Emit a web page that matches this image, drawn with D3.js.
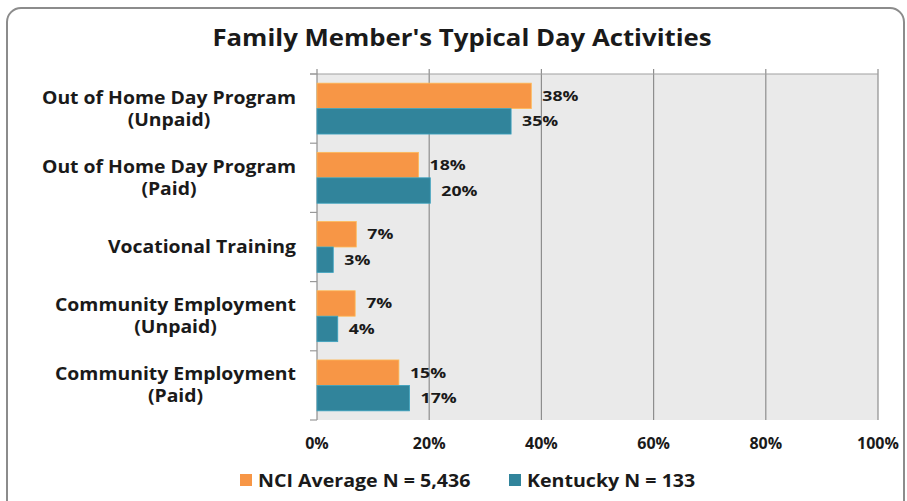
<!DOCTYPE html>
<html>
<head>
<meta charset="utf-8">
<script src="https://cdn.jsdelivr.net/npm/d3@7"></script>
<style>
  body { margin: 0; background: #fff; }
  svg text { font-family: "Open Sans", "DejaVu Sans", sans-serif; font-weight: bold; fill: #1a1a1a; }
</style>
</head>
<body>
<svg id="chart"></svg>
<script>
// Data
const categories = [
  ['Out of Home Day Program', '(Unpaid)'],
  ['Out of Home Day Program', '(Paid)'],
  ['Vocational Training'],
  ['Community Employment', '(Unpaid)'],
  ['Community Employment', '(Paid)']
];
const seriesNames = ['NCI Average N = 5,436', 'Kentucky N = 133'];
const nciValues = [38.2, 18.1, 7.0, 6.8, 14.6];
const kyValues = [34.6, 20.2, 2.9, 3.7, 16.5];
const xTicks = [0, 20, 40, 60, 80, 100];
const colors = ['#F79646', '#31849B'];

let width = 907;
let height = 501;
let margin = {left: 317, right: 29, top: 74, bottom: 81};

let svg = d3.select('#chart').attr('width', width).attr('height', height);

// the original font is a little wider than Open Sans, so stretch text horizontally
let stretch = (sel, k) => {
  sel.each(function() {
    let w = this.getComputedTextLength();
    d3.select(this)
      .attr('textLength', w * k)
      .attr('lengthAdjust', 'spacingAndGlyphs');
  });
  return sel;
};

// outer frame
svg.append('rect')
  .attr('x', 7).attr('y', 8)
  .attr('width', 897).attr('height', 510)
  .attr('rx', 14)
  .attr('fill', 'white')
  .attr('stroke', '#8c8c8c')
  .attr('stroke-width', 2);

// title
stretch(svg.append('text')
  .attr('x', 462).attr('y', 46)
  .attr('text-anchor', 'middle')
  .style('font-size', '23px')
  .text("Family Member's Typical Day Activities"), 1.12);

// scales
let xScale = d3.scaleLinear()
  .domain([0, 100])
  .range([margin.left, width - margin.right]);

let yScale = d3.scaleBand()
  .domain(d3.range(categories.length))
  .range([margin.top, height - margin.bottom]);

let inner = d3.scaleBand()
  .domain([0, 1])
  .range([0, yScale.bandwidth()])
  .paddingOuter(0.36)
  .paddingInner(0);

// plot background
svg.append('rect')
  .attr('x', xScale(0)).attr('y', margin.top)
  .attr('width', xScale(100) - xScale(0))
  .attr('height', height - margin.bottom - margin.top)
  .attr('fill', '#EAEAEA');

// vertical grid lines
svg.append('g')
  .selectAll('line')
  .data(xTicks.slice(1))
  .enter()
  .append('line')
  .attr('x1', d => xScale(d)).attr('x2', d => xScale(d))
  .attr('y1', margin.top - 5).attr('y2', height - margin.bottom)
  .attr('stroke', '#8e8e8e')
  .attr('stroke-width', 1.2);

// top line
svg.append('line')
  .attr('x1', xScale(0) - 7).attr('x2', xScale(100))
  .attr('y1', margin.top).attr('y2', margin.top)
  .attr('stroke', '#a0a0a0').attr('stroke-width', 1.2);

// left axis with ticks between categories
let yAxisG = svg.append('g');
yAxisG.append('line')
  .attr('x1', xScale(0)).attr('x2', xScale(0))
  .attr('y1', margin.top - 5).attr('y2', height - margin.bottom)
  .attr('stroke', '#8e8e8e').attr('stroke-width', 1.2);
yAxisG.selectAll('.ytick')
  .data(d3.range(categories.length + 1))
  .enter()
  .append('line')
  .attr('class', 'ytick')
  .attr('x1', xScale(0) - 7).attr('x2', xScale(0))
  .attr('y1', i => margin.top + i * yScale.step())
  .attr('y2', i => margin.top + i * yScale.step())
  .attr('stroke', '#9a9a9a').attr('stroke-width', 1.2);

// category labels: lines centred on each other, block right-aligned
let catG = svg.append('g');
categories.forEach((lines, i) => {
  let cy = yScale(i) + yScale.bandwidth() / 2;
  let block = catG.append('g');
  let texts = lines.map((ln, j) => block.append('text')
    .attr('x', 0)
    .attr('y', cy + 6 + (j - (lines.length - 1) / 2) * 22)
    .attr('text-anchor', 'middle')
    .style('font-size', '17px')
    .text(ln));
  texts.forEach(t => stretch(t, 1.14));
  let w = d3.max(texts, t => +t.attr('textLength'));
  block.attr('transform', 'translate(' + (296 - w / 2) + ',0)');
});

// bars
const series = [nciValues, kyValues];
series.forEach((vals, s) => {
  let g = svg.append('g');
  g.selectAll('rect')
    .data(vals)
    .enter()
    .append('rect')
    .attr('x', xScale(0))
    .attr('y', (d, i) => yScale(i) + inner(s))
    .attr('width', d => xScale(d) - xScale(0))
    .attr('height', inner.bandwidth())
    .attr('fill', colors[s])
    .attr('stroke', d3.color(colors[s]).brighter(0.6))
    .attr('stroke-width', 0.8);
  stretch(g.selectAll('text')
    .data(vals)
    .enter()
    .append('text')
    .attr('x', d => xScale(d) + 11)
    .attr('y', (d, i) => yScale(i) + inner(s) + inner.bandwidth() / 2 + 5)
    .style('font-size', '15px')
    .text(d => Math.round(d) + '%'), 1.18);
});

// x tick labels
svg.append('g')
  .selectAll('text')
  .data(xTicks)
  .enter()
  .append('text')
  .attr('x', d => xScale(d))
  .attr('y', 449)
  .attr('text-anchor', 'middle')
  .style('font-size', '16px')
  .text(d => d + '%');

// legend
let legendX = [240, 509];
let legend = svg.append('g');
seriesNames.forEach((name, s) => {
  legend.append('rect')
    .attr('x', legendX[s]).attr('y', 474)
    .attr('width', 12).attr('height', 12)
    .attr('fill', colors[s]);
  stretch(legend.append('text')
    .attr('x', legendX[s] + 18).attr('y', 487)
    .style('font-size', '17.5px')
    .text(name), 1.12);
});
</script>
</body>
</html>
